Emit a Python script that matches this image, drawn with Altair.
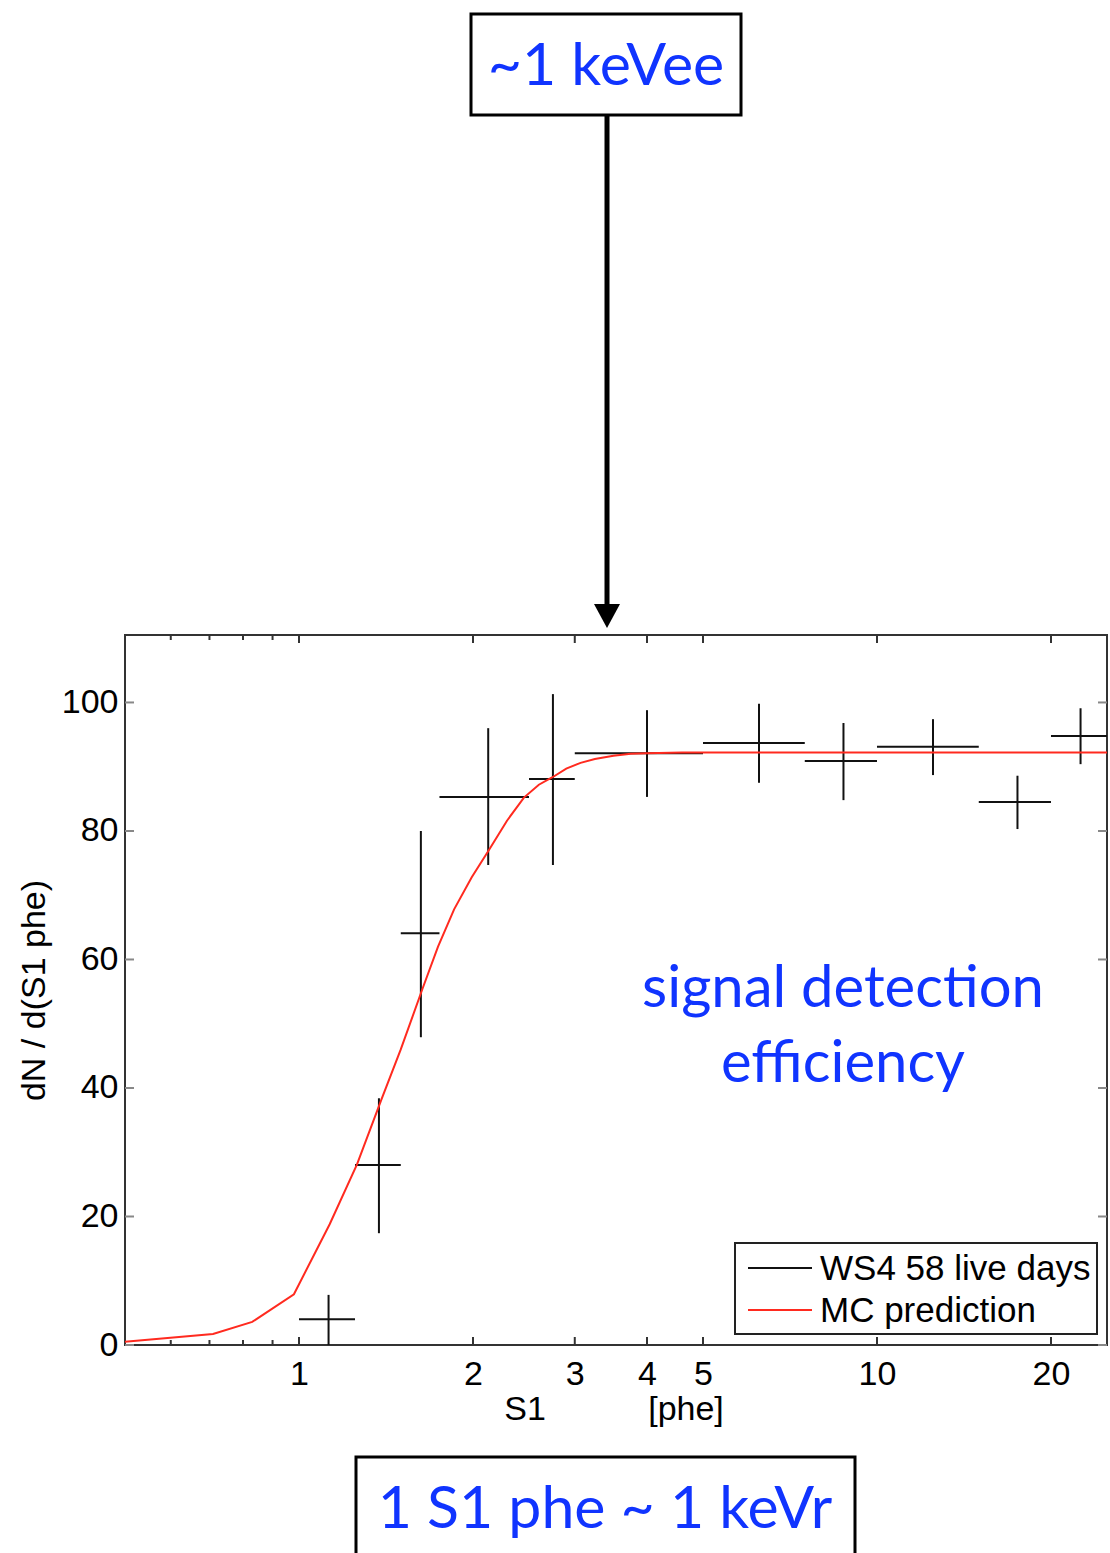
import altair as alt
import pandas as pd

# ---------------- data ----------------
bin_lo = [1.0, 1.25, 1.5, 1.75, 2.5, 3.0, 5.0, 7.5, 10.0, 15.0, 20.0]
bin_hi = [1.25, 1.5, 1.75, 2.5, 3.0, 5.0, 7.5, 10.0, 15.0, 20.0, 25.0]
bin_center = [1.125, 1.375, 1.625, 2.125, 2.75, 4.0, 6.25, 8.75, 12.5, 17.5, 22.5]
eff = [4.0, 28.0, 64.1, 85.3, 88.1, 92.1, 93.7, 90.9, 93.1, 84.5, 94.8]
err_lo = [0.0, 17.4, 47.9, 74.7, 74.7, 85.3, 87.5, 84.8, 88.7, 80.3, 90.4]
err_hi = [7.8, 38.4, 80.0, 96.0, 101.3, 98.8, 99.8, 96.8, 97.4, 88.6, 99.1]

mc_x = [0.5, 0.71, 0.83, 0.98, 1.13, 1.26, 1.39, 1.5, 1.635, 1.74, 1.855,
        1.99, 2.13, 2.29, 2.45, 2.6, 2.75, 2.9, 3.07, 3.25, 3.5, 3.75, 4.0,
        4.6, 25.0]
mc_y = [0.5, 1.7, 3.6, 7.9, 18.8, 28.1, 38.3, 46.0, 55.4, 62.0, 67.8,
        72.8, 77.0, 81.6, 85.2, 87.2, 88.4, 89.7, 90.6, 91.2, 91.7, 92.0, 92.1,
        92.2, 92.2]

x_ticks_major = [1, 2, 3, 4, 5, 10, 20]
x_ticks_minor = [0.6, 0.7, 0.8, 0.9]
y_ticks = [0, 20, 40, 60, 80, 100]

legend_labels = ["WS4 58 live days", "MC prediction"]
x_title_parts = ["S1", "[phe]"]
y_title = "dN / d(S1 phe)"
top_note = "~1 keVee"
bottom_note = "1 S1 phe ~ 1 keVr"
inner_note = ["signal detection", "efficiency"]

# ---------------- layout ----------------
W, H = 982, 710
BLUE = "#1034ff"
AX_FONT = "Liberation Sans"
NOTE_FONT = "Lato"
FS = 34

df_pts = pd.DataFrame({"lo": bin_lo, "hi": bin_hi, "c": bin_center,
                       "eff": eff, "elo": err_lo, "ehi": err_hi})
df_mc = pd.DataFrame({"x": mc_x, "y": mc_y})
dummy = pd.DataFrame({"d": [0]})

xscale = alt.Scale(type="log", domain=[0.5, 25], nice=False)
yscale = alt.Scale(domain=[0, 110.5], nice=False, zero=False)

xaxis = alt.Axis(values=x_ticks_major, format="d", title=None, ticks=False,
                 domain=False, grid=False, labelFontSize=FS, labelFont=AX_FONT,
                 labelColor="black", labelPadding=12, labelFlush=False)
yaxis = alt.Axis(values=y_ticks, title=y_title, ticks=False, domain=False,
                 grid=False, labelFontSize=FS, labelFont=AX_FONT,
                 labelColor="black", labelPadding=7, titlePadding=10,
                 titleFont=AX_FONT, titleFontSize=FS, titleFontWeight="normal",
                 titleColor="black")


def X(field):
    return alt.X(field, type="quantitative", scale=xscale, axis=xaxis)


def Y(field):
    return alt.Y(field, type="quantitative", scale=yscale, axis=yaxis)


hbars = alt.Chart(df_pts).mark_rule(color="#111", strokeWidth=2).encode(
    x=X("lo"), x2="hi", y=Y("eff"))
vbars = alt.Chart(df_pts).mark_rule(color="#111", strokeWidth=2).encode(
    x=X("c"), y=Y("elo"), y2="ehi")
mc_line = alt.Chart(df_mc).mark_line(color="#ff2a1f", strokeWidth=2).encode(
    x=X("x"), y=Y("y"))

# tick marks (inward, Matlab style)
df_xmaj = pd.DataFrame({"v": x_ticks_major})
df_xmin = pd.DataFrame({"v": x_ticks_minor})
df_y = pd.DataFrame({"v": y_ticks})
tick_layers = []
for dfx, ln in [(df_xmaj, 8), (df_xmin, 5)]:
    tick_layers.append(alt.Chart(dfx).mark_rule(color="#333", strokeWidth=2).encode(
        x=X("v"), y=alt.value(H), y2=alt.value(H - ln)))
    tick_layers.append(alt.Chart(dfx).mark_rule(color="#333", strokeWidth=2).encode(
        x=X("v"), y=alt.value(0), y2=alt.value(ln)))
tick_layers.append(alt.Chart(df_y).mark_rule(color="#888", strokeWidth=2).encode(
    y=Y("v"), x=alt.value(0), x2=alt.value(9)))
tick_layers.append(alt.Chart(df_y).mark_rule(color="#888", strokeWidth=2).encode(
    y=Y("v"), x=alt.value(W - 9), x2=alt.value(W)))

# x-axis title pieces
xt1 = alt.Chart(dummy).mark_text(font=AX_FONT, fontSize=FS, color="black",
                                 baseline="middle", align="center").encode(
    x=alt.value(400), y=alt.value(775), text=alt.value(x_title_parts[0]))
xt2 = alt.Chart(dummy).mark_text(font=AX_FONT, fontSize=FS, color="black",
                                 baseline="middle", align="center").encode(
    x=alt.value(561), y=alt.value(775), text=alt.value(x_title_parts[1]))

# legend (drawn by hand, Matlab style)
leg_box = alt.Chart(dummy).mark_rect(fill="white", stroke="#222", strokeWidth=2).encode(
    x=alt.value(610), x2=alt.value(972), y=alt.value(608), y2=alt.value(699))
leg_l1 = alt.Chart(dummy).mark_rule(color="#111", strokeWidth=2).encode(
    x=alt.value(623), x2=alt.value(687), y=alt.value(633))
leg_l2 = alt.Chart(dummy).mark_rule(color="#ff2a1f", strokeWidth=2).encode(
    x=alt.value(623), x2=alt.value(687), y=alt.value(675))
leg_t1 = alt.Chart(dummy).mark_text(font=AX_FONT, fontSize=35, color="black",
                                    align="left", baseline="middle").encode(
    x=alt.value(695), y=alt.value(634), text=alt.value(legend_labels[0]))
leg_t2 = alt.Chart(dummy).mark_text(font=AX_FONT, fontSize=35, color="black",
                                    align="left", baseline="middle").encode(
    x=alt.value(695), y=alt.value(676), text=alt.value(legend_labels[1]))

# inner annotation
in1 = alt.Chart(dummy).mark_text(font=NOTE_FONT, fontSize=58, color=BLUE,
                                 align="center", baseline="middle").encode(
    x=alt.value(718), y=alt.value(355), text=alt.value(inner_note[0]))
in2 = alt.Chart(dummy).mark_text(font=NOTE_FONT, fontSize=58, color=BLUE,
                                 align="center", baseline="middle").encode(
    x=alt.value(718), y=alt.value(430), text=alt.value(inner_note[1]))

# top box + arrow
top_box = alt.Chart(dummy).mark_rect(fill="white", stroke="black", strokeWidth=3).encode(
    x=alt.value(346), x2=alt.value(616), y=alt.value(-621), y2=alt.value(-520))
top_txt = alt.Chart(dummy).mark_text(font=NOTE_FONT, fontSize=59, color=BLUE,
                                     align="center", baseline="middle").encode(
    x=alt.value(481), y=alt.value(-568), text=alt.value(top_note))
shaft = alt.Chart(dummy).mark_rule(color="black", strokeWidth=5).encode(
    x=alt.value(482), y=alt.value(-520), y2=alt.value(-28))
head = alt.Chart(dummy).mark_point(shape="M-1,-0.92L1,-0.92L0,0.92Z", filled=True,
                                   color="black", opacity=1, size=676).encode(
    x=alt.value(482), y=alt.value(-19))

# bottom box
bot_box = alt.Chart(dummy).mark_rect(fill="white", stroke="black", strokeWidth=3).encode(
    x=alt.value(231), x2=alt.value(730), y=alt.value(822), y2=alt.value(940))
bot_txt = alt.Chart(dummy).mark_text(font=NOTE_FONT, fontSize=59, color=BLUE,
                                     align="center", baseline="middle").encode(
    x=alt.value(480), y=alt.value(875), text=alt.value(bottom_note))

chart = alt.layer(
    hbars, vbars, *tick_layers, mc_line, xt1, xt2,
    leg_box, leg_l1, leg_l2, leg_t1, leg_t2, in1, in2,
    top_box, top_txt, shaft, head, bot_box, bot_txt
).properties(
    width=W, height=H,
    autosize=alt.AutoSizeParams(type="none"),
    padding={"left": 125, "top": 635, "right": 3, "bottom": 208},
    background="white",
).configure_view(stroke="#333", strokeWidth=2)

chart.save("out.html", embed_options={"renderer": "svg", "actions": False})
